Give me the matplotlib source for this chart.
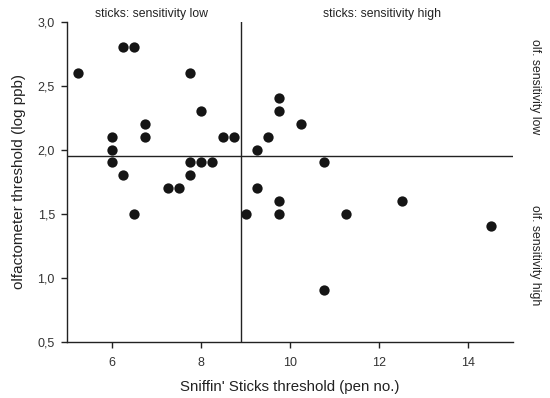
import matplotlib.pyplot as plt
from matplotlib.ticker import FuncFormatter

plt.rcParams['font.family'] = ['Liberation Sans', 'DejaVu Sans']

# Sniffin' Sticks threshold (pen no.) vs olfactometer threshold (log ppb)
sticks = [5.25, 6.25, 6.5, 6.0, 6.0, 6.0, 6.75, 6.75, 6.25, 6.5, 7.25, 7.5,
          7.75, 8.0, 8.5, 8.75, 7.75, 8.0, 8.25, 7.75, 9.25, 9.5, 9.25, 9.0,
          9.75, 9.75, 9.75, 9.75, 10.25, 10.75, 11.25, 12.5, 14.5, 10.75]
olfacto = [2.6, 2.8, 2.8, 2.1, 2.0, 1.9, 2.2, 2.1, 1.8, 1.5, 1.7, 1.7,
           2.6, 2.3, 2.1, 2.1, 1.9, 1.9, 1.9, 1.8, 2.0, 2.1, 1.7, 1.5,
           2.4, 2.3, 1.6, 1.5, 2.2, 1.9, 1.5, 1.6, 1.4, 0.9]
cut_sticks = 8.9
cut_olfacto = 1.95
x_ticks = [6, 8, 10, 12, 14]
y_ticks = [0.5, 1.0, 1.5, 2.0, 2.5, 3.0]

fig = plt.figure(figsize=(5.5, 3.98), dpi=100)
ax = fig.add_axes([0.1224, 0.1415, 0.8103, 0.804])

ax.scatter(sticks, olfacto, s=55, color='#151515', zorder=3, linewidths=0)
ax.axvline(cut_sticks, color='#222222', lw=1.0)
ax.axhline(cut_olfacto, color='#222222', lw=1.0)

ax.set_xlim(5, 15)
ax.set_ylim(0.5, 3.0)
ax.set_xticks(x_ticks)
ax.set_yticks(y_ticks)
ax.yaxis.set_major_formatter(FuncFormatter(lambda v, p: f"{v:.1f}".replace('.', ',')))
for s in ['top', 'right']:
    ax.spines[s].set_visible(False)
for s in ['left', 'bottom']:
    ax.spines[s].set_linewidth(1.0)
    ax.spines[s].set_color('#222222')
ax.tick_params(direction='out', length=4, width=1.0, color='#222222',
               labelsize=9, labelcolor='#333333', pad=5)
ax.tick_params(axis='x', pad=7)

ax.set_xlabel("Sniffin' Sticks threshold (pen no.)", fontsize=10.8, color='#222222', labelpad=8)
ax.set_ylabel("olfactometer threshold (log ppb)", fontsize=11, color='#222222', labelpad=8)

ax.text(6.9, 1.024, "sticks: sensitivity low", transform=ax.get_xaxis_transform(),
        ha='center', va='center', fontsize=8.8, color='#222222')
ax.text(12.05, 1.024, "sticks: sensitivity high", transform=ax.get_xaxis_transform(),
        ha='center', va='center', fontsize=8.8, color='#222222')
fig.text(0.973, 1 - 87 / 398, "olf. sensitivity low", rotation=270,
         ha='center', va='center', fontsize=8.8, color='#222222')
fig.text(0.973, 1 - 255 / 398, "olf. sensitivity high", rotation=270,
         ha='center', va='center', fontsize=8.8, color='#222222')

fig.savefig('out.png', dpi=100)
